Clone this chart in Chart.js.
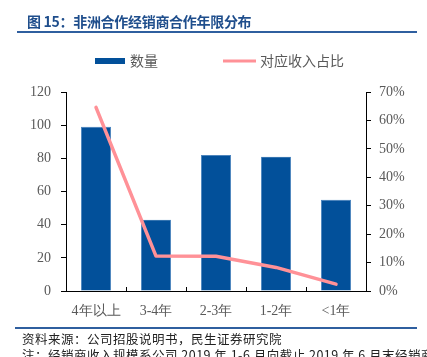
<!DOCTYPE html>
<html><head><meta charset="utf-8">
<script src="https://cdn.jsdelivr.net/npm/chart.js@4/dist/chart.umd.min.js"></script>
<style>
html,body{margin:0;padding:0;background:#fff;}
#wrap{position:relative;width:427px;height:357px;overflow:hidden;}
#c{position:absolute;left:0;top:0;}
.title{position:absolute;left:27px;top:11px;font:bold 14px "Noto Sans CJK SC";color:#1F4E8C;white-space:nowrap;letter-spacing:-0.3px;}
.hr1{position:absolute;left:17px;top:31px;width:400px;height:2px;background:#2F5F9F;}
.hr2{position:absolute;left:15px;top:327px;width:402px;height:1.5px;background:#2F5F9F;}
.src{position:absolute;left:22px;top:329px;font:12.5px "Noto Sans CJK SC";color:#222;white-space:nowrap;letter-spacing:0.5px;}
.note{position:absolute;left:22px;top:345px;font:12.5px "Noto Sans CJK SC";color:#222;white-space:nowrap;letter-spacing:0.5px;}
</style></head>
<body><div id="wrap">
<canvas id="c" width="427" height="357"></canvas>
<div class="title">图 15：非洲合作经销商合作年限分布</div>
<div class="hr1"></div>
<div class="hr2"></div>
<div class="src">资料来源：公司招股说明书，民生证券研究院</div>
<div class="note">注：经销商收入规模系公司 2019 年 1-6 月向截止 2019 年 6 月末经销商的销售收入</div>
</div>
<script>
const categories = ['4年以上','3-4年','2-3年','1-2年','<1年'];
const counts = [99, 43, 82, 81, 55];
const shares = [64.6, 12.3, 12.2, 8.3, 2.4];
const leftTicks = [0,20,40,60,80,100,120];
const rightTicks = [0,10,20,30,40,50,60,70];

const BLUE = '#02509A';
const PINK = '#FF9197';
const GRAY = '#595959';
const tickFont = {family:'"Liberation Serif"', size:14};

const legendPlugin = {
  id:'customLegend',
  afterDraw(chart){
    const ctx = chart.ctx;
    const ds = chart.data.datasets;
    ctx.save();
    ctx.font = '14px "Noto Sans CJK SC"';
    ctx.textBaseline = 'middle';
    ctx.fillStyle = ds[0].backgroundColor;
    ctx.fillRect(95, 58, 30, 6);
    ctx.fillStyle = GRAY;
    ctx.fillText(ds[0].label, 130, 61);
    ctx.strokeStyle = ds[1].borderColor;
    ctx.lineWidth = 3;
    ctx.beginPath(); ctx.moveTo(223, 61); ctx.lineTo(256, 61); ctx.stroke();
    ctx.fillText(ds[1].label, 260, 61);
    ctx.restore();
  }
};
const innerTicks = {
  id:'innerTicks',
  afterDatasetsDraw(chart){
    const x = chart.scales.x, ctx = chart.ctx, b = chart.chartArea.bottom;
    ctx.save();
    ctx.strokeStyle = '#000'; ctx.lineWidth = 1;
    for(let i=1;i<categories.length;i++){
      const px = Math.round((x.getPixelForValue(i-1)+x.getPixelForValue(i))/2)+0.5;
      ctx.beginPath(); ctx.moveTo(px, b-4); ctx.lineTo(px, b); ctx.stroke();
    }
    ctx.restore();
  }
};

new Chart(document.getElementById('c'), {
  type:'bar',
  data:{
    labels: categories,
    datasets:[
      {label:'数量', data:counts, backgroundColor:BLUE, borderColor:'#3A7BC0', borderWidth:{left:0.6,right:0.6,top:0.6,bottom:0}, yAxisID:'y', order:2, categoryPercentage:1, barPercentage:0.5},
      {label:'对应收入占比', type:'line', data:shares, borderColor:PINK, borderWidth:3.5, pointRadius:0, tension:0, yAxisID:'y1', order:1, borderCapStyle:'round', borderJoinStyle:'round'}
    ]
  },
  options:{
    responsive:false, animation:false, devicePixelRatio:1,
    layout:{padding:{top:92,bottom:36,left:0,right:0}},
    plugins:{legend:{display:false}, tooltip:{enabled:false}},
    scales:{
      x:{
        grid:{offset:true, drawOnChartArea:false, drawTicks:false},
        border:{color:'#000', width:1},
        ticks:{font:tickFont, color:GRAY, padding:12, maxRotation:0},
        afterFit(s){ s.height = 30; }
      },
      y:{
        position:'left', min:0, max:120,
        afterBuildTicks(s){ s.ticks = leftTicks.map(v=>({value:v})); },
        grid:{drawOnChartArea:false, tickLength:5, color:'#000'},
        border:{color:'#000', width:1},
        ticks:{font:tickFont, color:GRAY, padding:10},
        afterFit(s){ s.width = 66; }
      },
      y1:{
        position:'right', min:0, max:70,
        afterBuildTicks(s){ s.ticks = rightTicks.map(v=>({value:v})); },
        grid:{drawOnChartArea:false, tickLength:5, color:'#000'},
        border:{color:'#000', width:1},
        ticks:{font:tickFont, color:GRAY, padding:8, callback:v=>v+'%'},
        afterFit(s){ s.width = 61; }
      }
    }
  },
  plugins:[legendPlugin, innerTicks]
});
</script>
</body></html>
